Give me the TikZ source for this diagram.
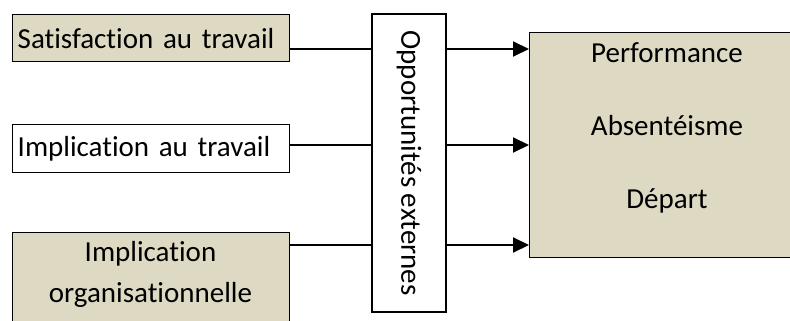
\documentclass[tikz,border=0pt]{standalone}
\usepackage{fontspec}
\setmainfont{Carlito}[Ligatures=NoCommon, RawFeature={-calt}]
\usetikzlibrary{arrows.meta}
\definecolor{BoxTan}{HTML}{DDD9C3}

\begin{document}
\begin{tikzpicture}[x=1pt, y=-1pt,
		box/.style={draw, line width=1.4pt, inner sep=5pt, anchor=north west,
			text width=267pt, font=\fontsize{29}{41}\selectfont},
		conn/.style={line width=2pt},
		arr/.style={line width=2pt, -{Triangle[length=16pt, width=15pt]}}]
		\useasboundingbox (0,0) rectangle (790,321);
		\clip (0,0) rectangle (790,321);
		
		% sources
		\node[box, fill=BoxTan, align=left, minimum height=47pt] (src1) at (12,14) {Satisfaction au travail};
		\node[box, align=left, minimum height=48pt] (src2) at (12,124) {Implication au travail};
		\node[box, fill=BoxTan, minimum height=92pt] (src3) at (12,232) {};
		\node[align=center, font=\fontsize{29}{41}\selectfont] (src3txt) at (150.5,274) {Implication\\organisationnelle};
		
		% moderator (rotated, so south is its left side)
		\node[draw, line width=1.4pt, rotate=-90, minimum width=298pt, minimum height=74pt,
		font=\fontsize{29}{41}\selectfont] (opp) at (409,163) {Opportunités externes};
		
		% outcomes
		\node[box, fill=BoxTan, text width=266pt, minimum height=225pt] (out) at (529,32) {};
		\foreach \lbl [count=\i] in {Performance,Absentéisme,Départ}{
			\pgfmathsetmacro{\yBase}{63 + (\i-1)*72.5}
			\node[anchor=base, font=\fontsize{29}{41}\selectfont] (lbl\i) at (667,\yBase) {\lbl};
		}
		
		\foreach \y [count=\i] in {49,145,245}{
			\draw[conn] (src\i.east |- 0,\y) -- (opp.south |- 0,\y);
			\draw[arr] (opp.north |- 0,\y) -- (out.west |- 0,\y);
		}
	\end{tikzpicture}
\end{document}
